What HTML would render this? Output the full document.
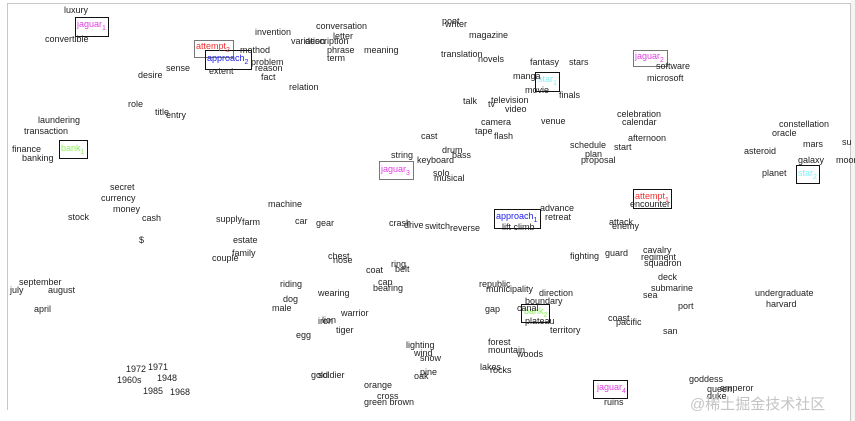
<!DOCTYPE html>
<html><head><meta charset="utf-8"><style>
html,body{margin:0;padding:0;background:#fff;}
#c{position:relative;width:855px;height:421px;overflow:hidden;font-family:"Liberation Sans",sans-serif;font-size:9px;color:#222;}
#c span{position:absolute;line-height:10px;white-space:nowrap;}
.b{position:absolute;border:1px solid #111;}
sub{font-size:7px;vertical-align:-3px;line-height:0;}
</style></head><body><div id="c">
<div style="position:absolute;left:7px;top:3px;width:843px;height:1px;background:#c8c8c8"></div>
<div style="position:absolute;left:7px;top:3px;width:1px;height:407px;background:#c8c8c8"></div>
<div style="position:absolute;left:850px;top:3px;width:1px;height:418px;background:#c8c8c8"></div>
<div style="position:absolute;left:851px;top:0;width:4px;height:421px;background:#f4f4f4"></div>

<div class="b" style="left:75px;top:17px;width:32px;height:18px"></div>
<div class="b" style="left:194px;top:40px;width:38px;height:16px;border-color:#777"></div>
<div class="b" style="left:205px;top:50px;width:45px;height:18px"></div>
<div class="b" style="left:59px;top:140px;width:27px;height:17px"></div>
<div class="b" style="left:379px;top:161px;width:33px;height:17px;border-color:#777"></div>
<div class="b" style="left:633px;top:50px;width:33px;height:15px;border-color:#777"></div>
<div class="b" style="left:535px;top:72px;width:23px;height:18px"></div>
<div class="b" style="left:796px;top:165px;width:22px;height:17px"></div>
<div class="b" style="left:633px;top:189px;width:37px;height:18px"></div>
<div class="b" style="left:494px;top:209px;width:45px;height:18px"></div>
<div class="b" style="left:521px;top:304px;width:27px;height:17px"></div>
<div class="b" style="left:593px;top:380px;width:33px;height:17px"></div>

<span style="left:77px;top:19px;color:#e040e0">jaguar<sub>1</sub></span>
<span style="left:196px;top:41px;color:#f03030">attempt<sub>2</sub></span>
<span style="left:207px;top:53px;color:#2020f0">approach<sub>2</sub></span>
<span style="left:61px;top:143px;color:#90f060">bank<sub>1</sub></span>
<span style="left:381px;top:164px;color:#e040e0">jaguar<sub>3</sub></span>
<span style="left:635px;top:51px;color:#e040e0">jaguar<sub>2</sub></span>
<span style="left:538px;top:74px;color:#80f0f8">star<sub>1</sub></span>
<span style="left:798px;top:168px;color:#80f0f8">star<sub>2</sub></span>
<span style="left:635px;top:191px;color:#f03030">attempt<sub>1</sub></span>
<span style="left:496px;top:211px;color:#2020f0">approach<sub>1</sub></span>
<span style="left:524px;top:306px;color:#90f060">bank<sub>2</sub></span>
<span style="left:597px;top:382px;color:#e040e0">jaguar<sub>4</sub></span>

<span style="left:64px;top:5px">luxury</span>
<span style="left:45px;top:34px">convertible</span>
<span style="left:240px;top:45px">method</span>
<span style="left:251px;top:57px">problem</span>
<span style="left:255px;top:63px">reason</span>
<span style="left:209px;top:66px">extent</span>
<span style="left:261px;top:72px">fact</span>
<span style="left:166px;top:63px">sense</span>
<span style="left:138px;top:70px">desire</span>
<span style="left:255px;top:27px">invention</span>
<span style="left:316px;top:21px">conversation</span>
<span style="left:333px;top:31px">letter</span>
<span style="left:291px;top:36px">variation</span>
<span style="left:305px;top:36px">description</span>
<span style="left:327px;top:45px">phrase</span>
<span style="left:364px;top:45px">meaning</span>
<span style="left:327px;top:53px">term</span>
<span style="left:289px;top:82px">relation</span>
<span style="left:128px;top:99px">role</span>
<span style="left:155px;top:107px">title</span>
<span style="left:166px;top:110px">entry</span>
<span style="left:38px;top:115px">laundering</span>
<span style="left:24px;top:126px">transaction</span>
<span style="left:12px;top:144px">finance</span>
<span style="left:22px;top:153px">banking</span>
<span style="left:391px;top:150px">string</span>
<span style="left:417px;top:155px">keyboard</span>
<span style="left:421px;top:131px">cast</span>
<span style="left:110px;top:182px">secret</span>
<span style="left:101px;top:193px">currency</span>
<span style="left:113px;top:204px">money</span>
<span style="left:142px;top:213px">cash</span>
<span style="left:68px;top:212px">stock</span>
<span style="left:268px;top:199px">machine</span>
<span style="left:216px;top:214px">supply</span>
<span style="left:242px;top:217px">farm</span>
<span style="left:295px;top:216px">car</span>
<span style="left:316px;top:218px">gear</span>
<span style="left:233px;top:235px">estate</span>
<span style="left:139px;top:235px">$</span>
<span style="left:232px;top:248px">family</span>
<span style="left:212px;top:253px">couple</span>
<span style="left:19px;top:277px">september</span>
<span style="left:10px;top:285px">july</span>
<span style="left:48px;top:285px">august</span>
<span style="left:34px;top:304px">april</span>
<span style="left:280px;top:279px">riding</span>
<span style="left:283px;top:294px">dog</span>
<span style="left:272px;top:303px">male</span>
<span style="left:318px;top:288px">wearing</span>
<span style="left:341px;top:308px">warrior</span>
<span style="left:318px;top:316px">iron</span>
<span style="left:322px;top:315px">lion</span>
<span style="left:336px;top:325px">tiger</span>
<span style="left:296px;top:330px">egg</span>
<span style="left:328px;top:251px">chest</span>
<span style="left:333px;top:255px">nose</span>
<span style="left:366px;top:265px">coat</span>
<span style="left:391px;top:259px">ring</span>
<span style="left:395px;top:264px">belt</span>
<span style="left:378px;top:277px">cap</span>
<span style="left:373px;top:283px">bearing</span>
<span style="left:389px;top:218px">crash</span>
<span style="left:404px;top:220px">drive</span>
<span style="left:425px;top:221px">switch</span>
<span style="left:450px;top:223px">reverse</span>
<span style="left:126px;top:364px">1972</span>
<span style="left:148px;top:362px">1971</span>
<span style="left:117px;top:375px">1960s</span>
<span style="left:157px;top:373px">1948</span>
<span style="left:143px;top:386px">1985</span>
<span style="left:170px;top:387px">1968</span>
<span style="left:311px;top:370px">gold</span>
<span style="left:318px;top:370px">soldier</span>
<span style="left:364px;top:380px">orange</span>
<span style="left:377px;top:391px">cross</span>
<span style="left:364px;top:397px">green brown</span>
<span style="left:406px;top:340px">lighting</span>
<span style="left:414px;top:348px">wind</span>
<span style="left:420px;top:353px">snow</span>
<span style="left:420px;top:367px">pine</span>
<span style="left:414px;top:371px">oak</span>

<span style="left:442px;top:16px">poet</span>
<span style="left:445px;top:19px">writer</span>
<span style="left:469px;top:30px">magazine</span>
<span style="left:441px;top:49px">translation</span>
<span style="left:478px;top:54px">novels</span>
<span style="left:530px;top:57px">fantasy</span>
<span style="left:569px;top:57px">stars</span>
<span style="left:656px;top:61px">software</span>
<span style="left:647px;top:73px">microsoft</span>
<span style="left:513px;top:71px">manga</span>
<span style="left:525px;top:85px">movie</span>
<span style="left:559px;top:90px">finals</span>
<span style="left:463px;top:96px">talk</span>
<span style="left:488px;top:99px">tv</span>
<span style="left:491px;top:95px">television</span>
<span style="left:505px;top:104px">video</span>
<span style="left:481px;top:117px">camera</span>
<span style="left:475px;top:126px">tape</span>
<span style="left:494px;top:131px">flash</span>
<span style="left:541px;top:116px">venue</span>
<span style="left:617px;top:109px">celebration</span>
<span style="left:622px;top:117px">calendar</span>
<span style="left:628px;top:133px">afternoon</span>
<span style="left:570px;top:140px">schedule</span>
<span style="left:614px;top:142px">start</span>
<span style="left:585px;top:149px">plan</span>
<span style="left:581px;top:155px">proposal</span>
<span style="left:442px;top:145px">drum</span>
<span style="left:452px;top:150px">bass</span>
<span style="left:433px;top:168px">solo</span>
<span style="left:434px;top:173px">musical</span>
<span style="left:779px;top:119px">constellation</span>
<span style="left:772px;top:128px">oracle</span>
<span style="left:803px;top:139px">mars</span>
<span style="left:842px;top:137px">su</span>
<span style="left:744px;top:146px">asteroid</span>
<span style="left:798px;top:155px">galaxy</span>
<span style="left:836px;top:155px">moon</span>
<span style="left:762px;top:168px">planet</span>
<span style="left:630px;top:199px">encounter</span>
<span style="left:540px;top:203px">advance</span>
<span style="left:545px;top:212px">retreat</span>
<span style="left:502px;top:222px">lift climb</span>
<span style="left:609px;top:217px">attack</span>
<span style="left:612px;top:221px">enemy</span>
<span style="left:570px;top:251px">fighting</span>
<span style="left:605px;top:248px">guard</span>
<span style="left:643px;top:245px">cavalry</span>
<span style="left:641px;top:252px">regiment</span>
<span style="left:644px;top:258px">squadron</span>
<span style="left:658px;top:272px">deck</span>
<span style="left:651px;top:283px">submarine</span>
<span style="left:643px;top:290px">sea</span>
<span style="left:479px;top:279px">republic</span>
<span style="left:486px;top:284px">municipality</span>
<span style="left:539px;top:288px">direction</span>
<span style="left:525px;top:296px">boundary</span>
<span style="left:678px;top:301px">port</span>
<span style="left:485px;top:304px">gap</span>
<span style="left:517px;top:303px">canal</span>
<span style="left:525px;top:316px">plateau</span>
<span style="left:550px;top:325px">territory</span>
<span style="left:608px;top:313px">coast</span>
<span style="left:616px;top:317px">pacific</span>
<span style="left:663px;top:326px">san</span>
<span style="left:755px;top:288px">undergraduate</span>
<span style="left:766px;top:299px">harvard</span>
<span style="left:488px;top:337px">forest</span>
<span style="left:488px;top:345px">mountain</span>
<span style="left:517px;top:349px">woods</span>
<span style="left:480px;top:362px">lakes</span>
<span style="left:490px;top:365px">rocks</span>
<span style="left:689px;top:374px">goddess</span>
<span style="left:707px;top:384px">queen</span>
<span style="left:720px;top:383px">emperor</span>
<span style="left:707px;top:391px">duke</span>
<span style="left:604px;top:397px">ruins</span>
<span style="left:690px;top:396px;font-size:15px;line-height:18px;color:#c4c4c4;font-family:'Liberation Sans','Noto Sans CJK SC',sans-serif">@稀土掘金技术社区</span>
</div></body></html>
